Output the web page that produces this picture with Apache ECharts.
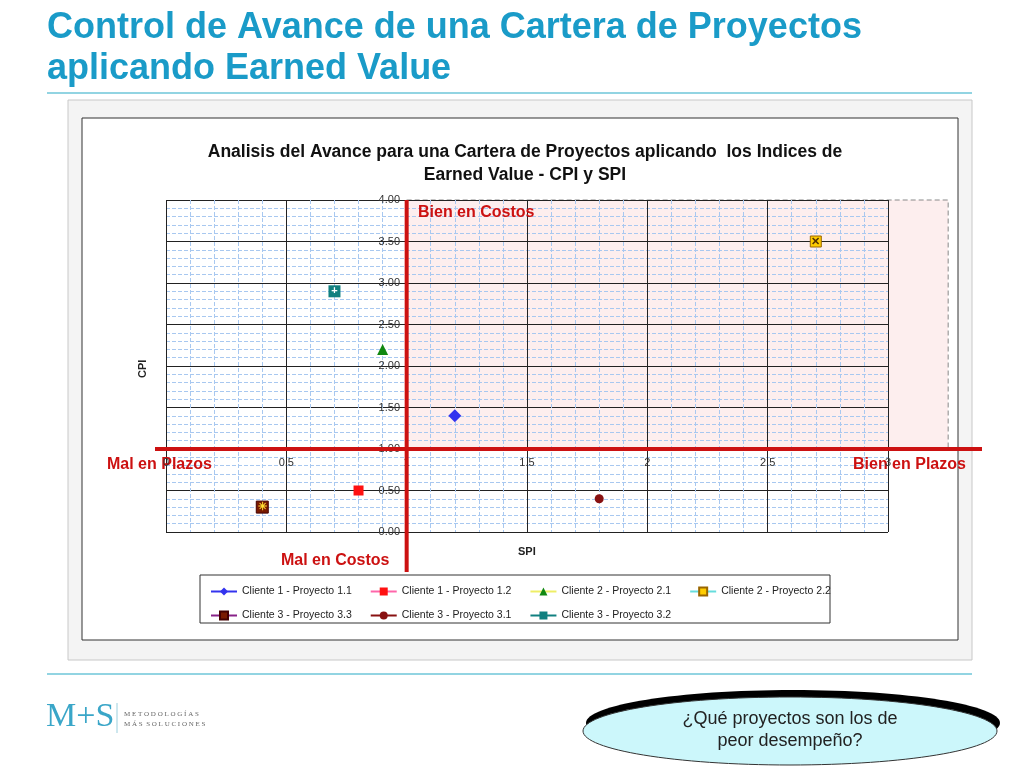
<!DOCTYPE html>
<html><head><meta charset="utf-8">
<script src="https://cdn.jsdelivr.net/npm/echarts@6/dist/echarts.min.js"></script>
<style>html,body{margin:0;padding:0;background:#fff}#c{width:1024px;height:768px}</style>
</head><body><div id="c"></div>
<script>
const seriesNames = ['Cliente 1 - Proyecto 1.1','Cliente 1 - Proyecto 1.2','Cliente 2 - Proyecto 2.1','Cliente 2 - Proyecto 2.2','Cliente 3 - Proyecto 3.3','Cliente 3 - Proyecto 3.1','Cliente 3 - Proyecto 3.2'];
const spiValues = [1.20, 0.80, 0.90, 2.70, 0.40, 1.80, 0.70];
const cpiValues = [1.40, 0.50, 2.20, 3.50, 0.30, 0.40, 2.90];
const xTicks = [0, 0.5, 1, 1.5, 2, 2.5, 3];
const yTicks = ['0.00','0.50','1.00','1.50','2.00','2.50','3.00','3.50','4.00'];

const styles = [
 {symbol:'diamond', size:13, color:'#3333ee', line:'#3333ee', border:null},
 {symbol:'rect', size:10, color:'#ff1111', line:'#ff66aa', border:null},
 {symbol:'triangle', size:11, color:'#118811', line:'#eeee66', border:null},
 {symbol:'rect', size:11, color:'#ffcc00', line:'#66dddd', border:'#996600', txt:'✕', tc:'#553300'},
 {symbol:'rect', size:12, color:'#7a1a00', line:'#882288', border:'#440000', txt:'✳', tc:'#ffdd33'},
 {symbol:'circle', size:9, color:'#881111', line:'#881111', border:null},
 {symbol:'rect', size:12, color:'#118080', line:'#118080', border:null, txt:'+', tc:'#ffffff'}
];
const series = seriesNames.map((n,i)=>({
  name:n, type:'line', data:[[spiValues[i], cpiValues[i]]],
  symbol:styles[i].symbol, symbolSize:styles[i].size,
  itemStyle:{color:styles[i].color, borderColor:styles[i].border||styles[i].color, borderWidth:styles[i].border?1:0},
  lineStyle:{color:styles[i].line, width:1},
  label: styles[i].txt ? {show:true, position:'inside', formatter:styles[i].txt, color:styles[i].tc, fontSize:11, fontWeight:'bold'} : {show:false},
  z:10
}));

const chart = echarts.init(document.getElementById('c'));
const red = '#cc1111';
const legendText = {fontSize:10.5, color:'#222', fontFamily:'Liberation Sans'};
chart.setOption({
  animation:false,
  title:{text:'Analisis del Avance para una Cartera de Proyectos aplicando  los Indices de\nEarned Value - CPI y SPI', left:520, top:136, textAlign:'center',
    textStyle:{fontSize:17.5, fontWeight:'bold', color:'#111', fontFamily:'Liberation Sans', lineHeight:23}},
  grid:{left:166, right:136, top:200, bottom:236},
  xAxis:{type:'value', min:0, max:3, interval:0.5, offset:-83,
    axisLine:{show:false}, axisTick:{show:false},
    axisLabel:{color:'#333', fontSize:11, fontFamily:'Liberation Sans', formatter:v=>xTicks.includes(v)?String(v):''},
    splitLine:{lineStyle:{color:'#222', width:1}},
    minorTick:{show:false, splitNumber:5}, minorSplitLine:{show:true, lineStyle:{color:'#a8c8f0', type:'dashed', width:1}}},
  yAxis:{type:'value', min:0, max:4, interval:0.5, offset:-242,
    axisLine:{show:false}, axisTick:{show:true, length:3, lineStyle:{color:'#333'}},
    axisLabel:{color:'#333', fontSize:11, fontFamily:'Liberation Sans', formatter:v=>yTicks[Math.round(v*2)]},
    splitLine:{lineStyle:{color:'#222', width:1}},
    minorTick:{show:false, splitNumber:5}, minorSplitLine:{show:true, lineStyle:{color:'#a8c8f0', type:'dashed', width:1}}},
  legend:[
    {left:205, top:581, itemGap:18, itemWidth:26, itemHeight:10, data:seriesNames.slice(0,4), textStyle:legendText},
    {left:205, top:605, itemGap:18, itemWidth:26, itemHeight:10, data:seriesNames.slice(4), textStyle:legendText}
  ],
  series:series
});

const p = (x,y)=>chart.convertToPixel({gridIndex:0},[x,y]);
const p1 = p(1,1), p4 = p(1,4), pR = p(3.25,4);
const txt = (t,x,y,opt)=>({type:'text', x:x, y:y, style:Object.assign({text:t, fill:red, font:'bold 16px "Liberation Sans"'}, opt||{})});
chart.setOption({graphic:[
  {type:'rect', shape:{x:68,y:100,width:904,height:560}, style:{fill:'#f4f4f4', stroke:'#c8c8c8'}, z:-30},
  {type:'rect', shape:{x:82,y:118,width:876,height:522}, style:{fill:'#ffffff', stroke:'#333', lineWidth:1}, z:-29},
  {type:'rect', shape:{x:p1[0],y:p4[1],width:pR[0]-p1[0],height:p1[1]-p4[1]}, style:{fill:'#fdeeee', stroke:'#888', lineDash:[5,3], lineWidth:1}, z:-20},
  {type:'line', shape:{x1:p1[0],y1:p4[1],x2:p1[0],y2:572}, style:{stroke:red, lineWidth:4}, z:50},
  {type:'line', shape:{x1:155,y1:p1[1],x2:982,y2:p1[1]}, style:{stroke:red, lineWidth:4}, z:50},
  {type:'text', x:137, y:378, rotation:Math.PI/2, style:{text:'CPI', fill:'#222', font:'bold 11px "Liberation Sans"'}, z:50},
  {type:'text', x:518, y:546, style:{text:'SPI', fill:'#222', font:'bold 11px "Liberation Sans"'}, z:50},
  txt('Bien en Costos',418,205), txt('Mal en Plazos',107,457), txt('Bien en Plazos',853,457), txt('Mal en Costos',281,553),
  {type:'rect', shape:{x:200,y:575,width:630,height:48}, style:{fill:'none', stroke:'#333'}, z:40},
  {type:'text', x:47, y:8, style:{text:'Control de Avance de una Cartera de Proyectos\naplicando Earned Value', fill:'#1a9bc8', font:'bold 36px "Liberation Sans"', lineHeight:41}},
  {type:'line', shape:{x1:47,y1:93,x2:972,y2:93}, style:{stroke:'#6ec6d8', lineWidth:1.5}},
  {type:'line', shape:{x1:47,y1:674,x2:972,y2:674}, style:{stroke:'#6ec6d8', lineWidth:1.5}},
  {type:'text', x:46, y:700, style:{text:'M+S', fill:'#3aa6c8', font:'34px "Liberation Serif"'}},
  {type:'line', shape:{x1:117,y1:703,x2:117,y2:733}, style:{stroke:'#9ccfdd', lineWidth:1}},
  {type:'text', x:124, y:709, style:{text:'M E T O D O L O G Í A S\nM Á S  S O L U C I O N E S', fill:'#666', font:'7px "Liberation Serif"', lineHeight:10}},
  {type:'ellipse', shape:{cx:793,cy:723,rx:207,ry:33}, style:{fill:'#000'}, z:60},
  {type:'ellipse', shape:{cx:790,cy:731,rx:207,ry:34}, style:{fill:'#ccf7fb', stroke:'#333', lineWidth:1}, z:61},
  {type:'text', x:790, y:708, style:{text:'¿Qué proyectos son los de\npeor desempeño?', fill:'#222', font:'18px "Liberation Sans"', align:'center', lineHeight:22}, z:62}
]});
</script></body></html>
